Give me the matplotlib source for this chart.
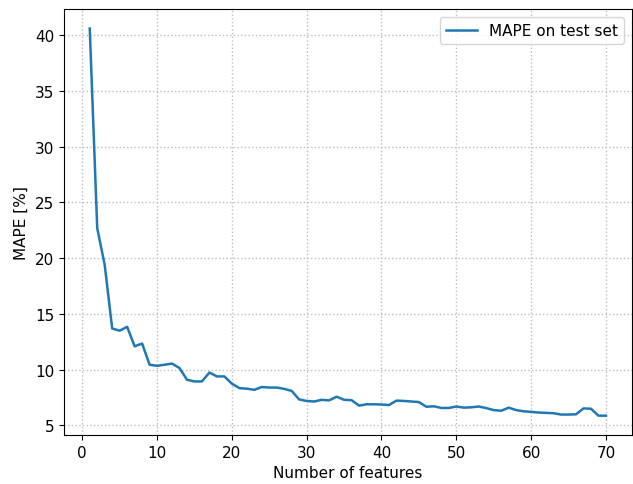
import matplotlib
matplotlib.use("Agg")
import matplotlib.pyplot as plt
import numpy as np

# number of features used by the model
n_features = np.arange(1, 71)

# MAPE on the test set for each number of features
mape = [40.6, 22.7, 19.4, 13.7, 13.5, 13.85, 12.1, 12.35, 10.45, 10.35,
        10.45, 10.55, 10.15, 9.1, 8.95, 8.95, 9.75, 9.4, 9.4, 8.75,
        8.35, 8.3, 8.2, 8.45, 8.4, 8.4, 8.28, 8.1, 7.33, 7.2,
        7.15, 7.3, 7.25, 7.58, 7.3, 7.27, 6.78, 6.9, 6.9, 6.88,
        6.83, 7.23, 7.2, 7.15, 7.1, 6.68, 6.72, 6.57, 6.57, 6.7,
        6.6, 6.63, 6.7, 6.56, 6.38, 6.32, 6.6, 6.38, 6.27, 6.22,
        6.16, 6.13, 6.1, 5.98, 5.98, 6.0, 6.53, 6.5, 5.88, 5.88]

plt.rcParams["font.size"] = 11

fig, ax = plt.subplots(figsize=(6.33, 4.85), dpi=100)
ax.plot(n_features, mape, color="#1f77b4", linewidth=1.8, label="MAPE on test set")
ax.set_xlabel("Number of features")
ax.set_ylabel("MAPE [%]")
ax.set_xticks(np.arange(0, 71, 10))
ax.set_yticks(np.arange(5, 41, 5))
ax.grid(True, linestyle=":", color="#bdbdbd", linewidth=1.0)
ax.legend(loc="upper right")
fig.subplots_adjust(left=0.101, right=0.998, top=0.979, bottom=0.101)
fig.savefig("out.png")
